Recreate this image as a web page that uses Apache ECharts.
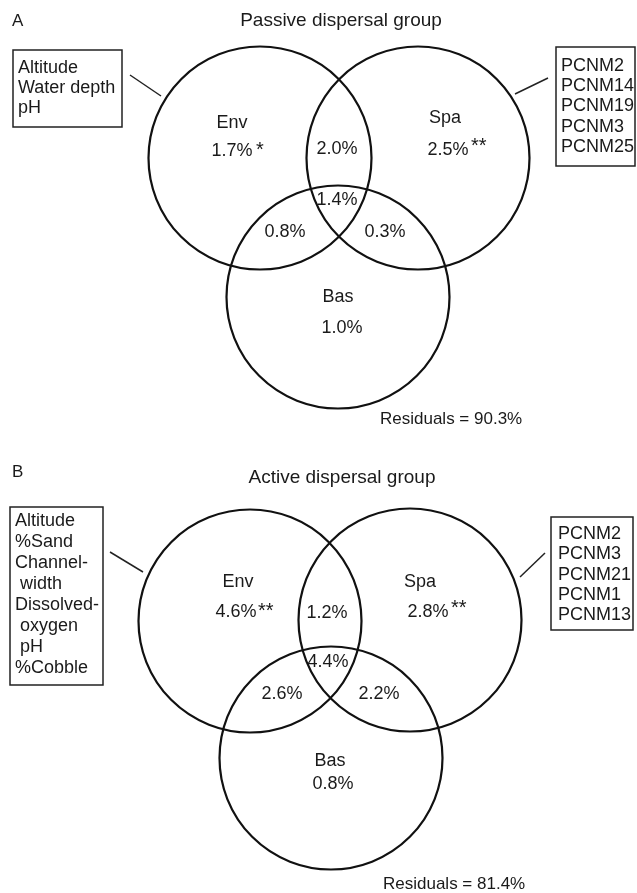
<!DOCTYPE html>
<html><head><meta charset="utf-8">
<script src="https://cdn.jsdelivr.net/npm/echarts@6/dist/echarts.min.js"></script>
<style>html,body{margin:0;padding:0;background:#fff}#c{width:637px;height:893px}</style>
</head><body><div id="c"></div>
<script>
// ---------------- DATA ----------------
const panelLetters = ['A', 'B'];
const panelTitles = ['Passive dispersal group', 'Active dispersal group'];
const setNames = ['Env', 'Spa', 'Bas'];
// regions: Env, Spa, Bas, Env∩Spa, Env∩Bas, Spa∩Bas, Env∩Spa∩Bas
const passiveValues = [1.7, 2.5, 1.0, 2.0, 0.8, 0.3, 1.4];
const activeValues  = [4.6, 2.8, 0.8, 1.2, 2.6, 2.2, 4.4];
const passiveSignif = ['*', '**', '', '', '', '', ''];
const activeSignif  = ['**', '**', '', '', '', '', ''];
const residuals = [90.3, 81.4];
const passiveEnvVars = ['Altitude', 'Water depth', 'pH'];
const passiveSpaVars = ['PCNM2', 'PCNM14', 'PCNM19', 'PCNM3', 'PCNM25'];
const activeEnvVars = ['Altitude', '%Sand', 'Channel-', ' width', 'Dissolved-', ' oxygen', ' pH', '%Cobble'];
const activeSpaVars = ['PCNM2', 'PCNM3', 'PCNM21', 'PCNM1', 'PCNM13'];

// ---------------- LAYOUT (diagram coordinate space) ----------------
const layout = [
  {
    letter: [12, 21], title: [341, 21],
    circles: [[260, 158], [418, 158], [338, 297]], r: 111.5,
    names: [[232, 123], [445, 118], [338, 297]],
    values: [[232, 151], [448, 150], [342, 328], [337, 149], [285, 232], [385, 232], [337, 200]],
    sigPos: [[256, 150], [471, 146.5]],
    envBox: [13, 50, 109, 77], envText: [18, 68, 20],
    spaBox: [556, 47, 79, 119], spaText: [561, 66, 20.2],
    envLine: [[130, 75], [161, 96]], spaLine: [[515, 94], [548, 78]],
    residual: [380, 419]
  },
  {
    letter: [12, 472], title: [342, 478],
    circles: [[250, 621], [410, 620], [331, 758]], r: 111.5,
    names: [[238, 582], [420, 582], [330, 761]],
    values: [[236, 612], [428, 612], [333, 784], [327, 613], [282, 694], [379, 694], [328, 662]],
    sigPos: [[258, 611], [451, 608.5]],
    envBox: [10, 507, 93, 178], envText: [15, 521, 21],
    spaBox: [551, 517, 82, 113], spaText: [558, 534, 20.3],
    envLine: [[110, 552], [143, 572]], spaLine: [[520, 577], [545, 553]],
    residual: [383, 884]
  }
];

const FONT = '"Liberation Sans", Arial, Helvetica, sans-serif';
const INK = '#1a1a1a';
const panelValues = [passiveValues, activeValues];
const panelSignif = [passiveSignif, activeSignif];
const panelEnvVars = [passiveEnvVars, activeEnvVars];
const panelSpaVars = [passiveSpaVars, activeSpaVars];

// build element lists
const circles = [], texts = [], boxes = [], segs = [];
layout.forEach((L, p) => {
  L.circles.forEach(c => circles.push([c[0], c[1], L.r]));
  texts.push({ x: L.letter[0], y: L.letter[1], t: panelLetters[p], s: 17, a: 'left' });
  texts.push({ x: L.title[0], y: L.title[1], t: panelTitles[p], s: 19, a: 'center' });
  setNames.forEach((n, i) => texts.push({ x: L.names[i][0], y: L.names[i][1], t: n, s: 18, a: 'center' }));
  panelValues[p].forEach((v, i) => texts.push({ x: L.values[i][0], y: L.values[i][1], t: v.toFixed(1) + '%', s: 18, a: 'center' }));
  panelSignif[p].forEach((sg, i) => { if (sg) texts.push({ x: L.sigPos[i][0], y: L.sigPos[i][1], t: sg, s: 20, a: 'left' }); });
  texts.push({ x: L.residual[0], y: L.residual[1], t: 'Residuals = ' + residuals[p].toFixed(1) + '%', s: 17, a: 'left' });
  panelEnvVars[p].forEach((v, i) => texts.push({ x: L.envText[0], y: L.envText[1] + i * L.envText[2], t: v, s: 18, a: 'left' }));
  panelSpaVars[p].forEach((v, i) => texts.push({ x: L.spaText[0], y: L.spaText[1] + i * L.spaText[2], t: v, s: 18, a: 'left' }));
  boxes.push(L.envBox, L.spaBox);
  segs.push([L.envLine[0][0], L.envLine[0][1], L.envLine[1][0], L.envLine[1][1]]);
  segs.push([L.spaLine[0][0], L.spaLine[0][1], L.spaLine[1][0], L.spaLine[1][1]]);
});

const chart = echarts.init(document.getElementById('c'), null, { renderer: 'canvas' });
chart.setOption({
  animation: false,
  backgroundColor: '#fff',
  grid: { left: 0, right: 0, top: 0, bottom: 0 },
  xAxis: { type: 'value', min: 0, max: 637, show: false },
  yAxis: { type: 'value', min: 0, max: 893, inverse: true, show: false },
  series: [
    {
      type: 'custom', clip: false, data: circles, encode: { x: 0, y: 1 },
      renderItem: (params, api) => {
        const c = api.coord([api.value(0), api.value(1)]);
        const r = api.size([api.value(2), 0])[0];
        return { type: 'circle', shape: { cx: c[0], cy: c[1], r }, style: { fill: 'none', stroke: '#111', lineWidth: 2.2 } };
      }
    },
    {
      type: 'custom', clip: false, data: boxes, encode: { x: 0, y: 1 },
      renderItem: (params, api) => {
        const c = api.coord([api.value(0), api.value(1)]);
        const s = api.size([api.value(2), api.value(3)]);
        return { type: 'rect', shape: { x: c[0], y: c[1], width: s[0], height: s[1] }, style: { fill: 'none', stroke: '#222', lineWidth: 1.5 } };
      }
    },
    {
      type: 'custom', clip: false, data: segs, encode: { x: 0, y: 1 },
      renderItem: (params, api) => {
        const a = api.coord([api.value(0), api.value(1)]);
        const b = api.coord([api.value(2), api.value(3)]);
        return { type: 'line', shape: { x1: a[0], y1: a[1], x2: b[0], y2: b[1] }, style: { stroke: '#222', lineWidth: 1.5 } };
      }
    },
    {
      type: 'custom', clip: false, data: texts.map(t => [t.x, t.y]), encode: { x: 0, y: 1 },
      renderItem: (params, api) => {
        const t = texts[params.dataIndex];
        const c = api.coord([api.value(0), api.value(1)]);
        return {
          type: 'text', x: c[0], y: c[1],
          style: { text: t.t, fontSize: t.s, fontFamily: FONT, fill: INK, align: t.a, verticalAlign: 'middle' }
        };
      }
    }
  ]
});
</script></body></html>
